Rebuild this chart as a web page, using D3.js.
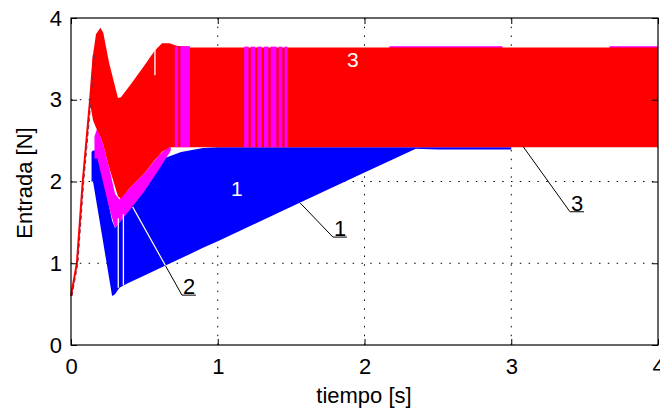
<!DOCTYPE html>
<html>
<head>
<meta charset="utf-8">
<title>Entrada vs tiempo</title>
<script src="https://d3js.org/d3.v7.min.js"></script>
<style>
  body { margin: 0; background: #fff; }
  text { font-family: "Liberation Sans", Arial, sans-serif; }
</style>
</head>
<body>
<svg width="660" height="414"></svg>
<script>
// envelopes of the three chattering inputs: time [s], lower / upper bound [N]
var t1  = [0.14, 0.15, 0.18, 0.28, 0.30, 0.33, 0.38, 0.50, 0.63, 0.75, 0.90, 1.00, 1.50, 2.00, 2.35, 2.50, 3.00];
var lo1 = [2.00, 2.00, 1.68, 0.60, 0.62, 0.70, 0.75, 0.85, 0.96, 1.06, 1.19, 1.27, 1.69, 2.11, 2.40, 2.39, 2.39];
var hi1 = [2.36, 2.38, 2.38, 1.52, 1.43, 1.50, 1.62, 1.90, 2.28, 2.36, 2.41, 2.42, 2.42, 2.42, 2.42, 2.42, 2.42];

var t2  = [0.16, 0.18, 0.22, 0.26, 0.30, 0.33, 0.40, 0.50, 0.60, 0.68];
var lo2 = [2.28, 2.28, 1.98, 1.68, 1.43, 1.50, 1.65, 1.88, 2.15, 2.38];
var hi2 = [2.55, 2.66, 2.45, 2.17, 1.85, 1.78, 1.92, 2.10, 2.32, 2.45];

var t3  = [0.13, 0.15, 0.17, 0.20, 0.22, 0.26, 0.32, 0.34, 0.40, 0.50, 0.57, 0.62, 0.67, 0.72, 0.80, 4.00];
var lo3 = [2.95, 2.75, 2.66, 2.55, 2.45, 2.17, 1.82, 1.79, 1.92, 2.10, 2.26, 2.36, 2.42, 2.42, 2.42, 2.42];
var hi3 = [3.05, 3.55, 3.80, 3.88, 3.82, 3.45, 3.02, 3.03, 3.17, 3.42, 3.60, 3.69, 3.69, 3.66, 3.64, 3.64];

// initial rise before the chattering starts
var tRise = [0.00, 0.04, 0.08, 0.13, 0.155];
var yRise = [0.60, 1.00, 2.00, 3.00, 3.55];

// places where signal 2 shows through signal 3
var pinkBars = [[0.707, 0.73], [0.745, 0.81], [1.18, 1.21], [1.225, 1.255], [1.27, 1.30],
                [1.315, 1.345], [1.36, 1.40], [1.415, 1.44], [1.455, 1.475]];
var pinkTop = [[0.71, 0.81], [2.17, 2.94], [3.67, 4.0]];

// thin white gaps in the bands
var gapT  = [0.322, 0.357, 0.572];
var gapLo = [0.70, 0.73, 3.30];
var gapHi = [1.55, 1.60, 3.64];

var xTicks = [0, 1, 2, 3, 4];
var yTicks = [0, 1, 2, 3, 4];

var svg = d3.select('svg');
var x = d3.scaleLinear().domain([0, 4]).range([71, 658]);
var y = d3.scaleLinear().domain([0, 4]).range([345, 18]);

function band(t, lo, hi) {
	return t.map(function(d, i) { return {t: d, lo: lo[i], hi: hi[i]}; });
}

var area = d3.area()
	.x(function(d) { return x(d.t); })
	.y0(function(d) { return y(d.lo); })
	.y1(function(d) { return y(d.hi); });

// grid
var grid = svg.append('g')
	.attr('stroke', '#000')
	.attr('stroke-width', 1)
	.attr('stroke-dasharray', '1.5 7.3');
grid.selectAll('.gx').data([1, 2, 3]).enter().append('line')
	.attr('x1', function(d) { return x(d); }).attr('x2', function(d) { return x(d); })
	.attr('y1', y(0)).attr('y2', y(4));
grid.selectAll('.gy').data([1, 2, 3]).enter().append('line')
	.attr('y1', function(d) { return y(d); }).attr('y2', function(d) { return y(d); })
	.attr('x1', x(0)).attr('x2', x(4));

var blue = band(t1, lo1, hi1);
var pink = band(t2, lo2, hi2);
var red = band(t3, lo3, hi3);

svg.append('path').attr('d', area(blue)).attr('fill', '#0000ff');
svg.append('path').attr('d', area(pink)).attr('fill', '#ff00ff');

// thin pink edge above the red band
svg.selectAll('.ptop').data(pinkTop).enter().append('rect')
	.attr('x', function(d) { return x(d[0]); })
	.attr('width', function(d) { return x(d[1]) - x(d[0]); })
	.attr('y', y(3.655)).attr('height', y(3.62) - y(3.655))
	.attr('fill', '#ff00ff');

svg.append('path').attr('d', area(red)).attr('fill', '#ff0000');

svg.selectAll('.pbar').data(pinkBars).enter().append('rect')
	.attr('x', function(d) { return x(d[0]); })
	.attr('width', function(d) { return x(d[1]) - x(d[0]); })
	.attr('y', y(3.65)).attr('height', y(2.42) - y(3.65))
	.attr('fill', '#ff00ff');

svg.selectAll('.gap').data(gapT).enter().append('line')
	.attr('x1', function(d) { return x(d); }).attr('x2', function(d) { return x(d); })
	.attr('y1', function(d, i) { return y(gapLo[i]); })
	.attr('y2', function(d, i) { return y(gapHi[i]); })
	.attr('stroke', '#fff').attr('stroke-width', 1.3);

var rise = tRise.map(function(d, i) { return [x(d), y(yRise[i])]; });
svg.append('path').attr('d', d3.line()(rise))
	.attr('fill', 'none').attr('stroke', '#ff0000').attr('stroke-width', 2);
svg.append('path').attr('d', d3.line()(rise.map(function(p) { return [p[0] + 1, p[1]]; })))
	.attr('fill', 'none').attr('stroke', '#8a1e3c').attr('stroke-width', 1)
	.attr('stroke-dasharray', '4 3');

// labels inside the bands
svg.append('text').attr('x', x(1.13)).attr('y', y(1.82))
	.attr('text-anchor', 'middle').attr('fill', '#fff').attr('font-size', 21).text('1');
svg.append('text').attr('x', x(1.92)).attr('y', y(3.4))
	.attr('text-anchor', 'middle').attr('fill', '#fff').attr('font-size', 21).text('3');

// leader lines with underlined numbers
var leaders = [
	{name: '1', from: [1.56, 1.74], to: [1.785, 1.32]},
	{name: '2', from: [0.42, 1.69], to: [0.756, 0.61]},
	{name: '3', from: [3.08, 2.43], to: [3.40, 1.63]}
];

var clip = svg.append('clipPath').attr('id', 'bands');
clip.append('path').attr('d', area(blue));
clip.append('path').attr('d', area(pink));

leaders.forEach(function(l) {
	var x0 = x(l.from[0]), y0 = y(l.from[1]), x1 = x(l.to[0]), y1 = y(l.to[1]);
	var d = 'M' + x0 + ',' + y0 + 'L' + x1 + ',' + y1 + 'H' + (x1 + 14);
	svg.append('path').attr('d', d).attr('fill', 'none').attr('stroke', '#000').attr('stroke-width', 1);
	svg.append('path').attr('d', d).attr('fill', 'none').attr('stroke', '#fff').attr('stroke-width', 1.2)
		.attr('clip-path', 'url(#bands)');
	svg.append('text').attr('x', x1 + 1).attr('y', y1 - 1)
		.attr('font-size', 22).attr('fill', '#000').text(l.name);
});

// axes with inward ticks on all sides
var fs = 22;
var bottom = svg.append('g').attr('transform', 'translate(0,' + y(0) + ')')
	.call(d3.axisBottom(x).tickValues(xTicks).tickFormat(d3.format('d')).tickSize(-6).tickPadding(13));
var left = svg.append('g').attr('transform', 'translate(' + x(0) + ',0)')
	.call(d3.axisLeft(y).tickValues(yTicks).tickFormat(d3.format('d')).tickSize(-6).tickPadding(9));
svg.append('g').attr('transform', 'translate(0,' + y(4) + ')')
	.call(d3.axisTop(x).tickValues(xTicks).tickFormat('').tickSize(-6));
svg.append('g').attr('transform', 'translate(' + x(4) + ',0)')
	.call(d3.axisRight(y).tickValues(yTicks).tickFormat('').tickSize(-6));

svg.selectAll('.domain').remove();
svg.selectAll('.tick line').attr('stroke', '#000');
svg.selectAll('.tick text')
	.attr('font-size', fs).attr('fill', '#000')
	.attr('font-family', '"Liberation Sans", Arial, sans-serif');

svg.append('rect')
	.attr('x', x(0)).attr('y', y(4))
	.attr('width', x(4) - x(0)).attr('height', y(0) - y(4))
	.attr('fill', 'none').attr('stroke', '#000').attr('stroke-width', 1.2);

svg.append('text').attr('x', 364).attr('y', 403)
	.attr('text-anchor', 'middle').attr('font-size', fs).text('tiempo [s]');
svg.append('text').attr('transform', 'translate(32,183) rotate(-90)')
	.attr('text-anchor', 'middle').attr('font-size', fs).text('Entrada [N]');
</script>
</body>
</html>
